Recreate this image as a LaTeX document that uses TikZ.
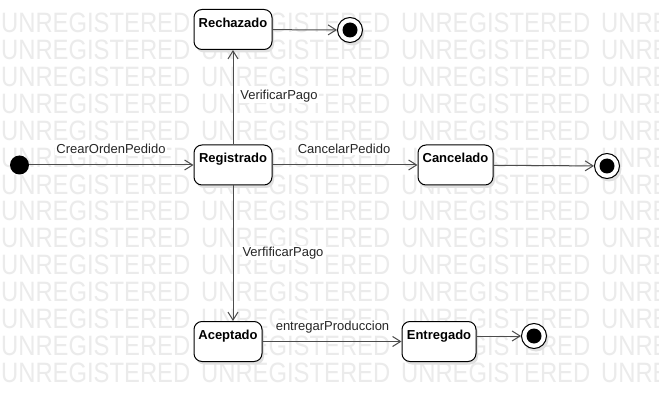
\documentclass[tikz,border=0pt]{standalone}
\usepackage{fontspec}
\setmainfont{Liberation Sans}
\usetikzlibrary{arrows.meta,shadows}
\begin{document}
\begin{tikzpicture}[x=1pt,y=-1pt,
  wm/.style={font=\fontsize{28}{28}\selectfont, text=black!8, inner sep=0pt, anchor=base west, xscale=0.85},
  stbox/.style={draw=black, line width=1pt, rounded corners=8pt, fill=white,
    inner xsep=0pt, inner ysep=0pt, text height=18pt, text depth=22pt,
    font=\bfseries\fontsize{13}{15}\selectfont,
    drop shadow={shadow xshift=2pt, shadow yshift=-3pt, fill=black!12, opacity=1}},
  initst/.style={circle, fill=black, inner sep=0pt, minimum size=19pt},
  finst/.style={circle, draw=black, line width=1pt, fill=white, inner sep=0pt, minimum size=25pt,
    path picture={\fill[black] (path picture bounding box.center) circle (7.5pt);},
    drop shadow={shadow xshift=2pt, shadow yshift=-3pt, fill=black!12, opacity=1}},
  edge/.style={draw=black!70, line width=1pt, -{Straight Barb[length=8pt,width=10pt,line width=1pt]}},
  lbl/.style={font=\fontsize{13}{15}\selectfont, fill=white, inner sep=1pt, anchor=base, text=black!85}]
\useasboundingbox (0,0) rectangle (659,401);
\fill[white] (0,0) rectangle (659,401);
% watermark
\foreach \k in {0,...,13}{
  \foreach \j in {0,...,3}{
    \node[wm] (wm-\k-\j) at ({1+200*\j},{33+26.85*\k}) {UNREGISTERED};
  }
}
% states
\node[stbox, minimum width=78pt, minimum height=40pt] (rech) at (233,29.5) {Rechazado};
\node[stbox, minimum width=78pt, minimum height=40pt] (regi) at (233,165) {Registrado};
\node[stbox, minimum width=75pt, minimum height=40pt] (canc) at (455.5,165) {Cancelado};
\node[stbox, minimum width=68pt, minimum height=40pt] (acep) at (228,341.5) {Aceptado};
\node[stbox, minimum width=74pt, minimum height=40pt] (entr) at (439,341.5) {Entregado};
\node[initst] (ini) at (19.5,165) {};
\node[finst] (f1) at (350,30) {};
\node[finst] (f2) at (607,166) {};
\node[finst] (f3) at (534,336) {};
% edges
\draw[edge] (ini) -- (regi);
\draw[edge] (regi) -- (canc);
\draw[edge] (rech) -- (f1);
\draw[edge] (canc) -- (f2);
\draw[edge] (regi.north) -- (rech.south);
\draw[edge] (regi.south) -- (regi.south |- acep.north);
\draw[edge] (acep) -- (entr);
\draw[edge] (f3 -| entr.east) -- (f3);
% labels
\node[lbl] (l1) at (111,154) {CrearOrdenPedido};
\node[lbl] (l2) at (279,99.5) {VerificarPago};
\node[lbl] (l3) at (344,154) {CancelarPedido};
\node[lbl] (l4) at (283,256.5) {VerfificarPago};
\node[lbl] (l5) at (332.5,330.5) {entregarProduccion};
\end{tikzpicture}
\end{document}
